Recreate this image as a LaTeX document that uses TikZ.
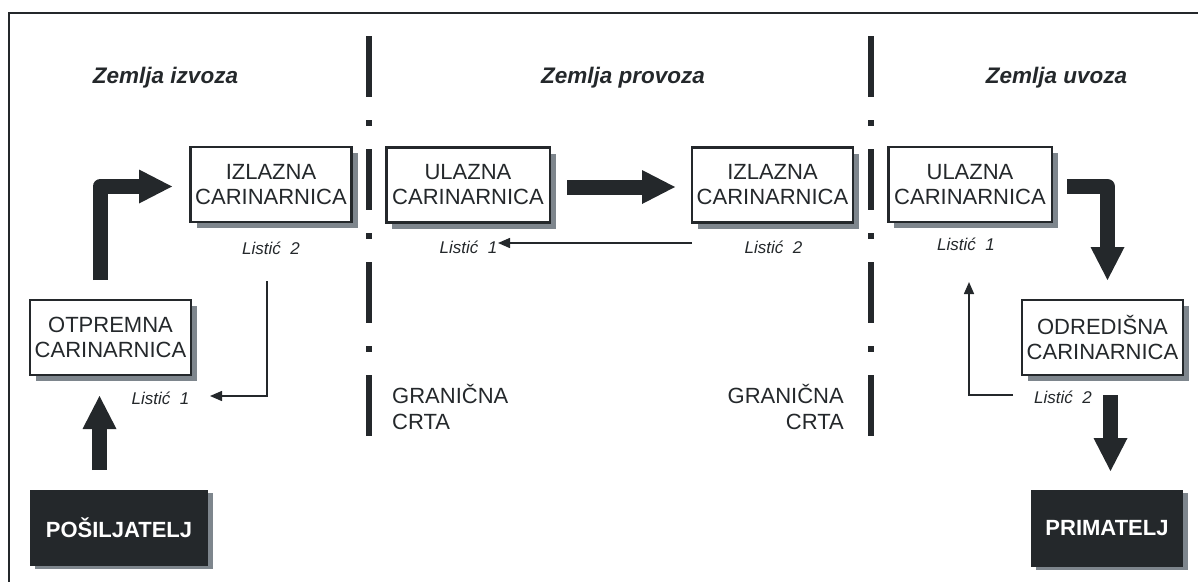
\documentclass[tikz,border=0pt]{standalone}
\usepackage{fontspec}
\setmainfont{Liberation Sans}
\usetikzlibrary{arrows.meta,shadows}
\definecolor{ink}{HTML}{24282B}
\definecolor{shade}{HTML}{7E868D}
\begin{document}
\begin{tikzpicture}[x=1pt,y=-1pt,
  office/.style={draw=ink, line width=2.5pt, fill=white, minimum width=161pt, minimum height=75pt,
    inner sep=0pt, align=center, font=\fontsize{22}{25}\selectfont, text=ink,
    drop shadow={shadow xshift=6pt, shadow yshift=-6pt, fill=shade, opacity=1}},
  party/.style={fill=ink, text=white, font=\bfseries\fontsize{22}{25}\selectfont, inner sep=0pt,
    drop shadow={shadow xshift=5pt, shadow yshift=-3pt, fill=shade, opacity=1}},
  head/.style={font=\bfseries\itshape\fontsize{22.5}{27}\selectfont, text=ink, anchor=base, inner sep=0pt},
  slip/.style={font=\itshape\fontsize{17}{20}\selectfont, text=ink, anchor=base, inner sep=0pt},
  border/.style={font=\fontsize{22}{26}\selectfont, text=ink, inner sep=0pt},
  thinarrow/.style={draw=ink, line width=1.5pt, -{Triangle[length=12pt,width=10pt]}},
  bigarrow/.style={draw=ink, line width=15pt, line join=round, -{Triangle[length=33pt,width=34pt,line width=0pt]}},
  borderline/.style={draw=ink, line width=5.5pt, dash pattern=on 61pt off 23pt on 6pt off 23pt},
  frameline/.style={draw=ink, line width=2.5pt}
]
\useasboundingbox (0,0) rectangle (1198,581);
% frame
\draw[frameline] (9,600) -- (9,13) -- (1220,13);
% border lines
\draw[borderline] (369,36) -- (369,440);
\draw[borderline] (871,36) -- (871,440);
% headings
\node[head] (h1) at (165.5,83) {Zemlja izvoza};
\node[head] (h2) at (623,83) {Zemlja provoza};
\node[head] (h3) at (1056.5,83) {Zemlja uvoza};
% offices
\node[office] (izl1) at (271,184.5) {IZLAZNA\\CARINARNICA};
\node[office] (otp) at (110.5,337.5) {OTPREMNA\\CARINARNICA};
\node[office, minimum width=163.5pt] (ul2) at (468,185) {ULAZNA\\CARINARNICA};
\node[office] (izl2) at (772.5,185) {IZLAZNA\\CARINARNICA};
\node[office, minimum width=163.5pt] (ul3) at (970,184.5) {ULAZNA\\CARINARNICA};
\node[office] (odr) at (1102.5,337.5) {ODREDIŠNA\\CARINARNICA};
% parties
\node[party, minimum width=178pt, minimum height=76pt] (pos) at (119,528) {POŠILJATELJ};
\node[party, minimum width=152pt, minimum height=77pt] (pri) at (1107,528.5) {PRIMATELJ};
% slips
\node[slip] (l2a) at (271,254) {Listić\ \ 2};
\node[slip] (l1a) at (160.5,404) {Listić\ \ 1};
\node[slip] (l1b) at (468.5,253) {Listić\ \ 1};
\node[slip] (l2b) at (773.5,253) {Listić\ \ 2};
\node[slip] (l1c) at (966,250) {Listić\ \ 1};
\node[slip] (l2c) at (1063,403) {Listić\ \ 2};
% border texts
\node[border, anchor=north west, align=left] (gc1) at (392,384) {GRANIČNA\\CRTA};
\node[border, anchor=north east, align=right] (gc2) at (844,384) {GRANIČNA\\CRTA};
% big arrows
\coordinate (a1s) at (99.5,470); \coordinate (a1e) at (99.5,396);
\draw[bigarrow] (a1s) -- (a1e);
\coordinate (a2s) at (100,280); \coordinate (a2e) at (172,186.5);
\draw[bigarrow] (a2s) |- (a2e);
\coordinate (a3s) at (567,187); \coordinate (a3e) at (675,187);
\draw[bigarrow] (a3s) -- (a3e);
\coordinate (a4s) at (1067,186.5); \coordinate (a4e) at (1107.5,280);
\draw[bigarrow] (a4s) -| (a4e);
\coordinate (a5s) at (1110.5,395); \coordinate (a5e) at (1110.5,471);
\draw[bigarrow] (a5s) -- (a5e);
% thin arrows
\coordinate (t1s) at (267,281); \coordinate (t1e) at (210,396);
\draw[thinarrow] (t1s) |- (t1e);
\coordinate (t2s) at (692,243); \coordinate (t2e) at (498,243);
\draw[thinarrow] (t2s) -- (t2e);
\coordinate (t3s) at (1013,395); \coordinate (t3e) at (969,282);
\draw[thinarrow] (t3s) -| (t3e);
\end{tikzpicture}
\end{document}
